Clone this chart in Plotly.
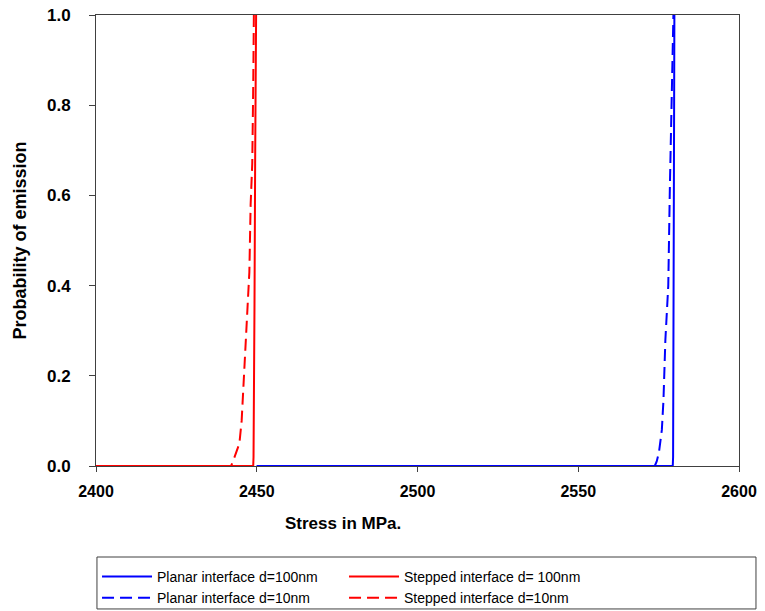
import plotly.graph_objects as go

# Stress (MPa) vs probability of emission
planar_100_x = [2450, 2579.4, 2579.5, 2579.6, 2579.7, 2579.8, 2579.9]
planar_100_y = [0.0, 0.0, 0.02, 0.34, 0.36, 0.68, 1.0]

stepped_100_x = [2400, 2448.9, 2449.0, 2449.1, 2449.3, 2449.5, 2449.8]
stepped_100_y = [0.0, 0.0, 0.02, 0.34, 0.36, 0.67, 1.0]

planar_10_x = [2450, 2573.8, 2574.4, 2575.1, 2576.0, 2576.5, 2577.1, 2577.7,
               2578.0, 2578.5, 2578.8, 2579.2, 2579.6]
planar_10_y = [0.0, 0.0, 0.01, 0.03, 0.08, 0.145, 0.28, 0.35,
               0.40, 0.62, 0.74, 0.87, 1.0]

stepped_10_x = [2400, 2442.0, 2442.6, 2443.5, 2444.6, 2445.3, 2446.0, 2446.4,
                2447.2, 2447.7, 2448.1, 2448.6, 2448.9, 2449.1]
stepped_10_y = [0.0, 0.0, 0.01, 0.03, 0.05, 0.10, 0.19, 0.26,
                0.35, 0.43, 0.58, 0.67, 0.84, 1.0]

x_ticks = [2400, 2450, 2500, 2550, 2600]
y_ticks = [0.0, 0.2, 0.4, 0.6, 0.8, 1.0]

BLUE = "#0000ff"
RED = "#ff0000"
DASH = "12px,6px"
FONT = "Liberation Sans, Arial"

fig = go.Figure()
fig.add_trace(go.Scatter(x=planar_100_x, y=planar_100_y, mode="lines",
                         name="Planar interface d=100nm",
                         line=dict(color=BLUE, width=2)))
fig.add_trace(go.Scatter(x=stepped_100_x, y=stepped_100_y, mode="lines",
                         name="Stepped interface d= 100nm",
                         line=dict(color=RED, width=2)))
fig.add_trace(go.Scatter(x=planar_10_x, y=planar_10_y, mode="lines",
                         name="Planar interface d=10nm",
                         line=dict(color=BLUE, width=2, dash=DASH)))
fig.add_trace(go.Scatter(x=stepped_10_x, y=stepped_10_y, mode="lines",
                         name="Stepped interface d=10nm",
                         line=dict(color=RED, width=2, dash=DASH)))

fig.update_xaxes(range=[2400, 2600], tickvals=x_ticks, ticks="outside", ticklen=5,
                 tickcolor="#404040", showline=True, linecolor="#404040", linewidth=1,
                 mirror=True, showgrid=False, zeroline=False, automargin=False,
                 ticklabelstandoff=6, ticklabeloverflow="allow",
                 tickfont=dict(family=FONT, size=16, color="black", weight="bold"))
fig.update_yaxes(range=[0, 1], tickvals=y_ticks, tickformat=".1f", ticks="outside",
                 ticklen=6, tickcolor="#404040", showline=True, linecolor="#404040",
                 linewidth=1, mirror=True, showgrid=False, zeroline=False,
                 automargin=False, ticklabelstandoff=15, ticklabeloverflow="allow",
                 tickfont=dict(family=FONT, size=17, color="black", weight="bold"))

# axis titles as annotations (x title sits left of centre in the original)
fig.add_annotation(text="Stress in MPa.", xref="paper", yref="paper",
                   x=0.384, y=-0.1264, xanchor="center", yanchor="middle",
                   showarrow=False,
                   font=dict(family=FONT, size=17, color="black", weight="bold"))
fig.add_annotation(text="Probability of emission", xref="paper", yref="paper",
                   x=-0.1197, y=0.5, xanchor="center", yanchor="middle",
                   textangle=-90, showarrow=False,
                   font=dict(family=FONT, size=18, color="black", weight="bold"))

# legend frame, wider than the entries
fig.add_shape(type="rect", xref="paper", yref="paper",
              x0=0.0015, x1=1.0264, y0=-0.2018, y1=-0.3170,
              line=dict(color="#404040", width=1), fillcolor="white", layer="below")

# page has an 8px body margin, so the figure is shrunk by that much
fig.update_layout(
    width=757, height=603,
    margin=dict(l=88, r=26, t=7, b=145, autoexpand=False),
    plot_bgcolor="white", paper_bgcolor="white",
    legend=dict(orientation="h", xref="container", yref="container",
                x=0.1176, xanchor="left", y=0.0829, yanchor="top",
                entrywidth=182, entrywidthmode="pixels", bgcolor="rgba(0,0,0,0)",
                tracegroupgap=0, itemwidth=50,
                font=dict(family="Liberation Sans Narrow, Arial Narrow, Arial",
                          size=14, color="black")),
)

fig.write_html("out.html")
